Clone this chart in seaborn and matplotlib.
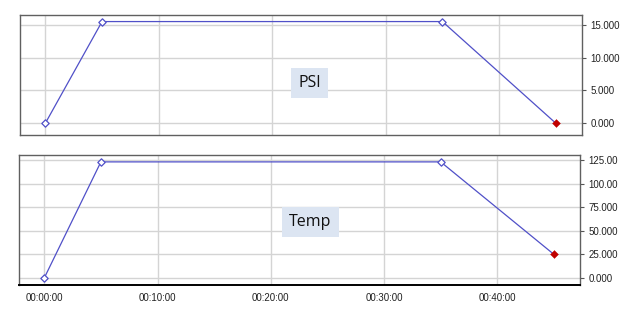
import matplotlib
matplotlib.use("Agg")
import matplotlib.pyplot as plt
import seaborn as sns
import pandas as pd

minutes = [0, 5, 35, 45]
psi = [0.0, 15.5, 15.5, 0.0]
temp = [0.0, 123.0, 123.0, 25.0]

x_ticks = [0, 10, 20, 30, 40]
x_labels = ["00:00:00", "00:10:00", "00:20:00", "00:30:00", "00:40:00"]
psi_ticks = [0, 5, 10, 15]
psi_labels = ["0.000", "5.000", "10.000", "15.000"]
temp_ticks = [0, 25, 50, 75, 100, 125]
temp_labels = ["0.000", "25.000", "50.000", "75.000", "100.00", "125.00"]

sns.set_theme(style="white")
plt.rcParams['font.family'] = ['Liberation Sans Narrow', 'Liberation Sans', 'DejaVu Sans']

LINE = "#5050c8"
GRID = "#d4d4d4"

fig = plt.figure(figsize=(6.28, 3.21), dpi=100)
ax1 = fig.add_axes([20/628, 1-135/321, 562/628, 120/321])
ax2 = fig.add_axes([19/628, 1-285/321, 561/628, 130/321])

panels = [
    (ax1, psi, psi_ticks, psi_labels, (-1.78, 16.5), "PSI", False, (0.516, 1 - (83 - 15) / 120)),
    (ax2, temp, temp_ticks, temp_labels, (-7.4, 130.3), "Temp", True, (0.519, 1 - (222 - 155) / 130)),
]

for ax, vals, yt, yl, ylim, title, show_x, tpos in panels:
    df = pd.DataFrame({"t": minutes, "v": vals})
    sns.lineplot(data=df, x="t", y="v", ax=ax, color=LINE, linewidth=0.9, zorder=3)
    sns.scatterplot(data=df.iloc[:-1], x="t", y="v", ax=ax, marker="D", s=14,
                    facecolor="white", edgecolor=LINE, linewidth=0.9, zorder=4)
    sns.scatterplot(data=df.iloc[-1:], x="t", y="v", ax=ax, marker="D", s=16,
                    color="#c00000", edgecolor="#c00000", zorder=5)
    ax.set_xlim(-2.23, 47.3)
    ax.set_ylim(*ylim)
    ax.set_xticks(x_ticks)
    ax.set_yticks(yt)
    ax.set_yticklabels(yl)
    if show_x:
        ax.set_xticklabels(x_labels)
    else:
        ax.set_xticklabels([])
    ax.yaxis.tick_right()
    ax.grid(True, color=GRID, linewidth=1.0, zorder=0)
    ax.set_axisbelow(True)
    ax.set_xlabel("")
    ax.set_ylabel("")
    ax.tick_params(axis="y", which="both", right=True, length=3, width=0.8,
                   color="#555555", labelsize=7, pad=3, labelcolor="#222222")
    ax.tick_params(axis="x", which="both", bottom=False, length=0,
                   labelsize=7, pad=6, labelcolor="#222222")
    for s in ax.spines.values():
        s.set_color("#606060")
        s.set_linewidth(1.0)
    ax.text(tpos[0], tpos[1], title, transform=ax.transAxes, ha="center", va="center",
            fontsize=11.5, family=["Open Sans", "DejaVu Sans"], color="#111111",
            bbox=dict(boxstyle="square,pad=0.45", facecolor="#dce5f2", edgecolor="none"),
            zorder=6)
    if ax.get_legend():
        ax.get_legend().remove()

ax2.spines["bottom"].set_color("#000000")
ax2.spines["bottom"].set_linewidth(1.4)

fig.savefig("out.png", dpi=100, facecolor="white")
